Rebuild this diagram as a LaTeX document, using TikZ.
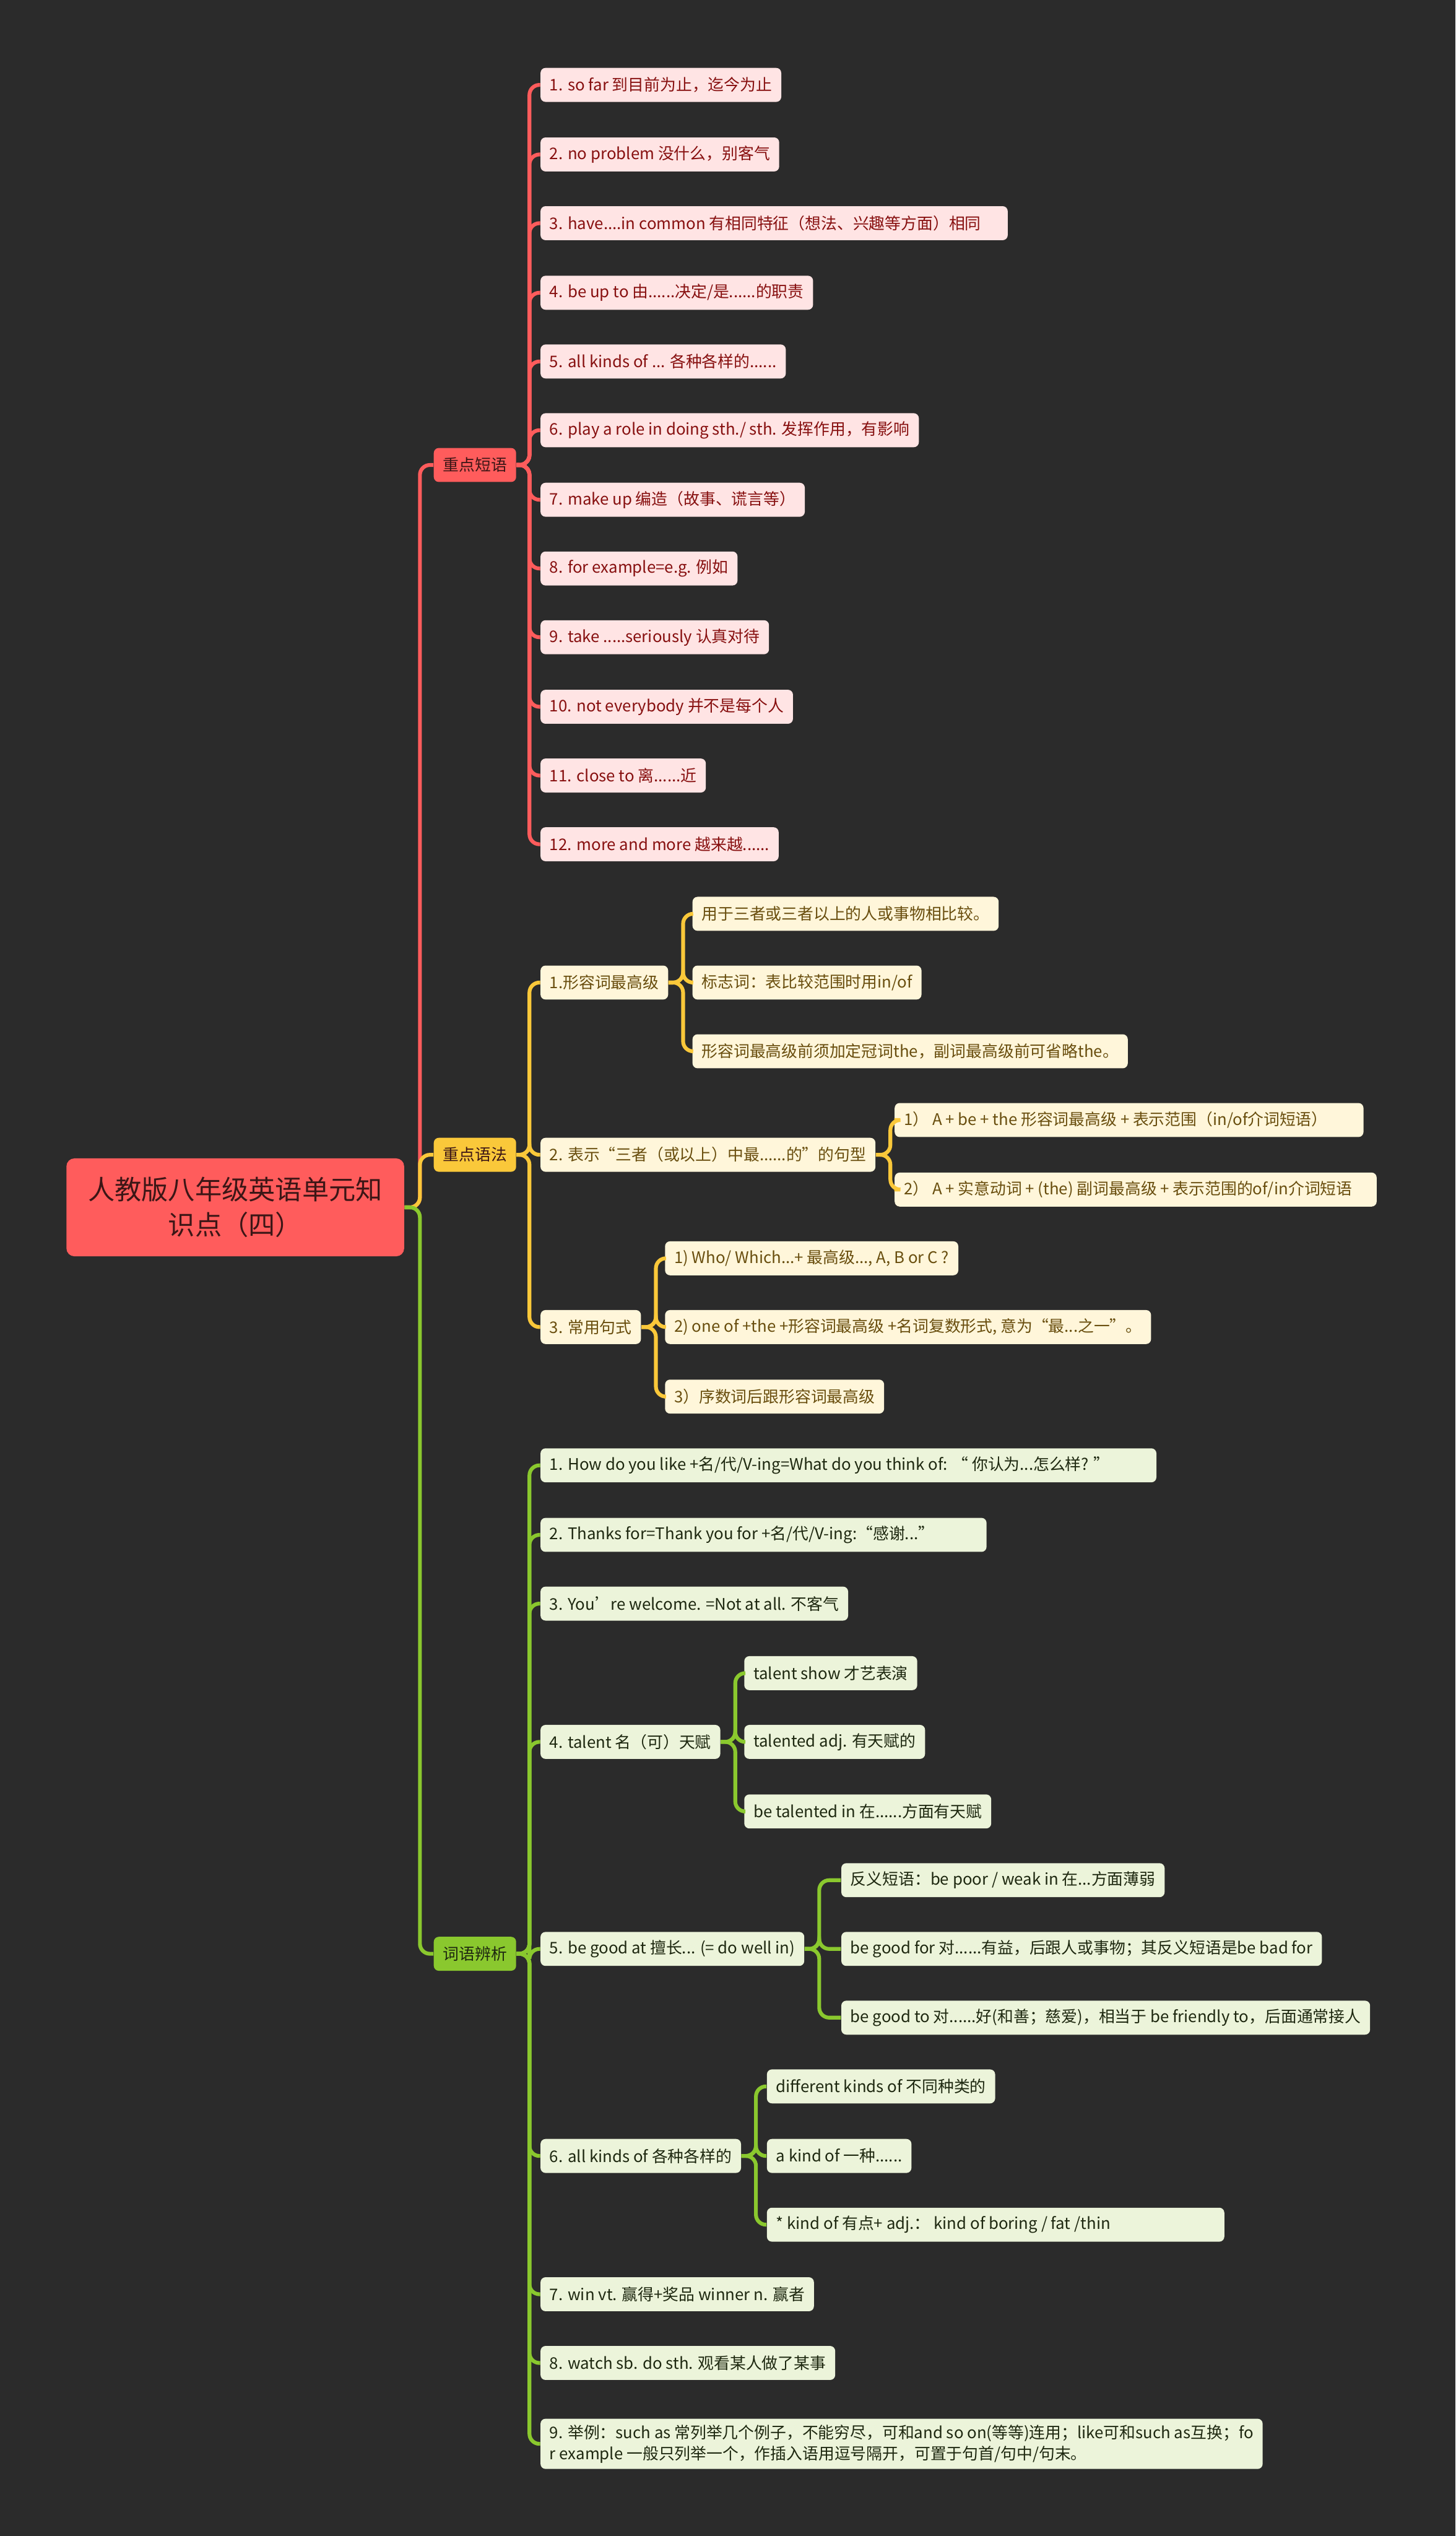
\documentclass[tikz,border=0pt]{standalone}
\usepackage{fontspec}
\setmainfont{Noto Sans CJK SC}
\usepackage{tikz}
\usetikzlibrary{positioning,calc}
\definecolor{BgDark}{RGB}{43,43,43}
\definecolor{RootRed}{RGB}{255,92,92}
\definecolor{RootText}{RGB}{60,22,22}
\definecolor{PinkFill}{RGB}{255,228,228}
\definecolor{PinkText}{RGB}{135,16,16}
\definecolor{GramYellow}{RGB}{250,200,58}
\definecolor{CreamFill}{RGB}{255,246,218}
\definecolor{CreamText}{RGB}{105,78,14}
\definecolor{WordGreen}{RGB}{138,200,46}
\definecolor{MintFill}{RGB}{236,244,218}
\definecolor{MintText}{RGB}{30,40,16}
\tikzset{
  box/.style={rounded corners=2.5pt, inner xsep=4.6pt, inner ysep=0pt, minimum height=17pt, anchor=west, font=\fontsize{8}{10.5}\selectfont},
  fixw/.style={text width=#1, align=flush left},
  rootbox/.style={fill=RootRed, text=RootText, rounded corners=4pt, minimum width=169pt, minimum height=49pt, align=center, font=\fontsize{13.4}{17.5}\selectfont},
  redtopic/.style={box, fill=RootRed, text=RootText},
  yeltopic/.style={box, fill=GramYellow, text=RootText},
  grntopic/.style={box, fill=WordGreen, text=MintText},
  redleaf/.style={box, fill=PinkFill, text=PinkText},
  yelleaf/.style={box, fill=CreamFill, text=CreamText},
  grnleaf/.style={box, fill=MintFill, text=MintText},
  redline/.style={draw=RootRed, line width=1.9pt, rounded corners=5pt},
  yelline/.style={draw=GramYellow, line width=1.9pt, rounded corners=5pt},
  grnline/.style={draw=WordGreen, line width=1.9pt, rounded corners=5pt}
}

\begin{document}
\begin{tikzpicture}[x=0.02844cm, y=-0.02844cm]
        \fill[BgDark] (0,0) rectangle (900,1568);
        \useasboundingbox (0,0) rectangle (900,1568);
        % root and topics
        \node[rootbox] (root) at (145.5,746.5) {人教版八年级英语单元知\\识点（四）};
        \node[redtopic] (phr) at (268,287.5) {重点短语};
        \node[yeltopic] (gram) at (268,714) {重点语法};
        \node[grntopic] (word) at (268,1208) {词语辨析};
        \draw[redline] (root.east) -- ++(9.5,0) |- (phr.west);
        \draw[yelline] (root.east) -- ++(9.5,0) |- (gram.west);
        \draw[grnline] (root.east) -- ++(9.5,0) |- (word.west);
        % key phrases
        \node[redleaf] (phr1) at (334,52.5) {1. so far 到目前为止，迄今为止};
        \node[redleaf] (phr2) at (334,95.5) {2. no problem 没什么，别客气};
        \node[redleaf, fixw=224.6pt] (phr3) at (334,138) {3. have....in common 有相同特征（想法、兴趣等方面）相同};
        \node[redleaf] (phr4) at (334,181) {4. be up to 由......决定/是......的职责};
        \node[redleaf] (phr5) at (334,223.5) {5. all kinds of ... 各种各样的......};
        \node[redleaf] (phr6) at (334,266) {6. play a role in doing sth./ sth. 发挥作用，有影响};
        \node[redleaf] (phr7) at (334,309) {7. make up 编造（故事、谎言等）};
        \node[redleaf] (phr8) at (334,351.5) {8. for example=e.g. 例如};
        \node[redleaf] (phr9) at (334,394) {9. take .....seriously 认真对待};
        \node[redleaf] (phr10) at (334,437) {10. not everybody 并不是每个人};
        \node[redleaf] (phr11) at (334,479.5) {11. close to 离......近};
        \node[redleaf] (phr12) at (334,522) {12. more and more 越来越......};
        \foreach \i in {1,...,12}
          \draw[redline] (phr.east) -- ++(8,0) |- (phr\i.west);
        % grammar
        \node[yelleaf] (gram1) at (334,607.5) {1.形容词最高级};
        \node[yelleaf] (gram2) at (334,714) {2. 表示“三者（或以上）中最......的”的句型};
        \node[yelleaf] (gram3) at (334,820.5) {3. 常用句式};
        \foreach \i in {1,2,3}
          \draw[yelline] (gram.east) -- ++(8,0) |- (gram\i.west);
        \node[yelleaf] (gram1a) at (428,565) {用于三者或三者以上的人或事物相比较。};
        \node[yelleaf] (gram1b) at (428,607.5) {标志词：表比较范围时用in/of};
        \node[yelleaf] (gram1c) at (428,650) {形容词最高级前须加定冠词the，副词最高级前可省略the。};
        \foreach \i in {a,b,c}
          \draw[yelline] (gram1.east) -- ++(9,0) |- (gram1\i.west);
        \node[yelleaf, fixw=225.4pt] (gram2a) at (553,692.5) {1） A + be + the 形容词最高级 + 表示范围（in/of介词短语）};
        \node[yelleaf, fixw=232pt] (gram2b) at (553,735.5) {2） A + 实意动词 + (the) 副词最高级 + 表示范围的of/in介词短语};
        \foreach \i in {a,b}
          \draw[yelline] (gram2.east) -- ++(9,0) |- (gram2\i.west);
        \node[yelleaf] (gram3a) at (411,778) {1) Who/ Which...+ 最高级..., A, B or C ?};
        \node[yelleaf] (gram3b) at (411,820.5) {2) one of +the +形容词最高级 +名词复数形式, 意为“最...之一”。};
        \node[yelleaf] (gram3c) at (411,863.5) {3）序数词后跟形容词最高级};
        \foreach \i in {a,b,c}
          \draw[yelline] (gram3.east) -- ++(9,0) |- (gram3\i.west);
        % word study
        \node[grnleaf, fixw=299pt] (word1) at (334,906) {1. How do you like +名/代/V-ing=What do you think of: “ 你认为...怎么样? ”};
        \node[grnleaf, fixw=214pt] (word2) at (334,949) {2. Thanks for=Thank you for +名/代/V-ing:“感谢...”};
        \node[grnleaf] (word3) at (334,991.5) {3. You’re welcome. =Not at all. 不客气};
        \node[grnleaf] (word4) at (334,1077) {4. talent 名（可）天赋};
        \node[grnleaf] (word5) at (334,1205) {5. be good at 擅长... (= do well in)};
        \node[grnleaf] (word6) at (334,1333) {6. all kinds of 各种各样的};
        \node[grnleaf] (word7) at (334,1418.5) {7. win vt. 赢得+奖品 winner n. 赢者};
        \node[grnleaf] (word8) at (334,1461) {8. watch sb. do sth. 观看某人做了某事};
        \node[grnleaf, align=left, inner ysep=3pt] (word9) at (334,1511) {9. 举例：such as 常列举几个例子，不能穷尽，可和and so on(等等)连用；like可和such as互换；fo\\r example 一般只列举一个，作插入语用逗号隔开，可置于句首/句中/句末。};
        \foreach \i in {1,...,9}
          \draw[grnline] (word.east) -- ++(8,0) |- (word\i.west);
        \node[grnleaf] (word4a) at (460,1034.5) {talent show 才艺表演};
        \node[grnleaf] (word4b) at (460,1077) {talented adj. 有天赋的};
        \node[grnleaf] (word4c) at (460,1120) {be talented in 在......方面有天赋};
        \foreach \i in {a,b,c}
          \draw[grnline] (word4.east) -- ++(9,0) |- (word4\i.west);
        \node[grnleaf] (word5a) at (520,1162.5) {反义短语：be poor / weak in 在...方面薄弱};
        \node[grnleaf] (word5b) at (520,1205) {be good for 对......有益，后跟人或事物；其反义短语是be bad for};
        \node[grnleaf] (word5c) at (520,1247.5) {be good to 对......好(和善；慈爱)，相当于 be friendly to，后面通常接人};
        \foreach \i in {a,b,c}
          \draw[grnline] (word5.east) -- ++(9,0) |- (word5\i.west);
        \node[grnleaf] (word6a) at (474,1290) {different kinds of 不同种类的};
        \node[grnleaf] (word6b) at (474,1333) {a kind of 一种......};
        \node[grnleaf, fixw=219.7pt] (word6c) at (474,1375.5) {* kind of 有点+ adj.：  kind of boring / fat /thin};
        \foreach \i in {a,b,c}
          \draw[grnline] (word6.east) -- ++(9,0) |- (word6\i.west);
\end{tikzpicture}
\end{document}
